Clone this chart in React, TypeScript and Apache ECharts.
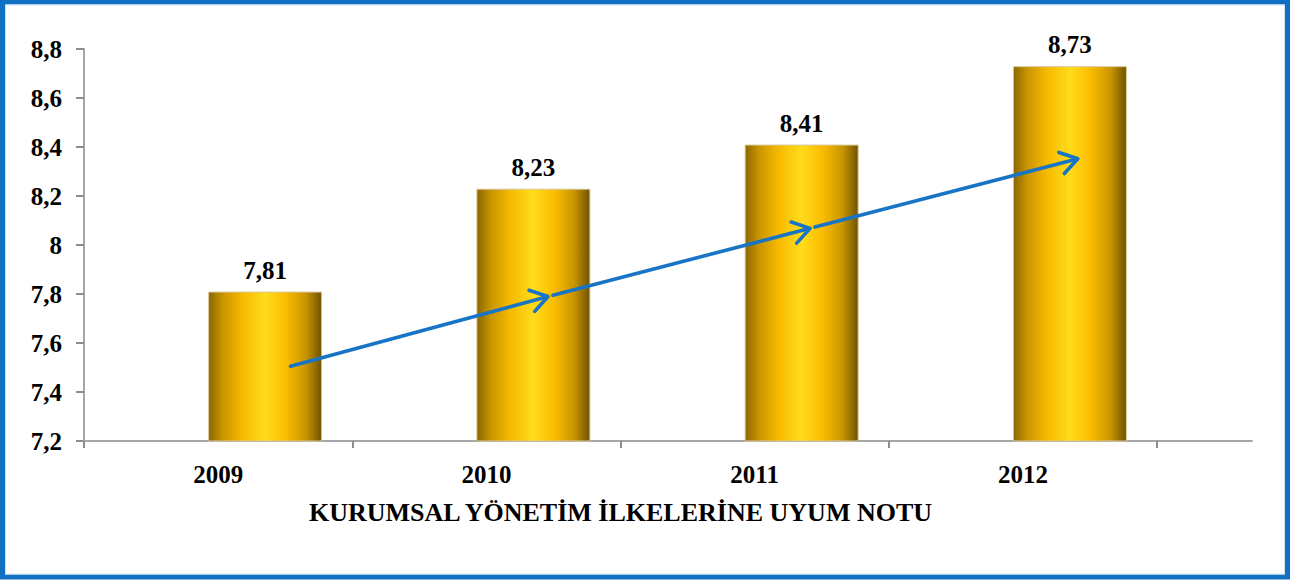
import React, { useEffect, useRef } from "react";
import * as echarts from "echarts";

const categories = ["2009", "2010", "2011", "2012"];
const scores = [7.81, 8.23, 8.41, 8.73];
const padSeries = [null, null, null, null];
const yTicks = { min: 7.2, max: 8.8, interval: 0.2 };
const xTitle = "KURUMSAL YÖNETİM İLKELERİNE UYUM NOTU";
// trend arrow (in data units: x = category index, y = score)
const trendX = [0.27, 1.23, 2.207, 3.205];
const trendY = [7.505, 7.79, 8.068, 8.352];

const FONT = "'Liberation Serif', 'Times New Roman', serif";

export default function App() {
  const ref = useRef<HTMLDivElement>(null);
  useEffect(() => {
    document.body.style.margin = "0";
    const chart = echarts.init(ref.current!, null, { renderer: "svg" });
    const segs: number[][] = [];
    for (let i = 0; i < trendX.length - 1; i++) {
      segs.push([trendX[i], trendY[i], trendX[i + 1], trendY[i + 1], i]);
    }
    const fmt = (v: number) => (Math.round(v * 100) / 100).toString().replace(".", ",");
    const barGrad = new echarts.graphic.LinearGradient(0, 0, 1, 0, [
      { offset: 0, color: "#8a6600" },
      { offset: 0.12, color: "#c89400" },
      { offset: 0.3, color: "#f7ba00" },
      { offset: 0.5, color: "#ffdc1c" },
      { offset: 0.68, color: "#fbbd00" },
      { offset: 0.86, color: "#c99500" },
      { offset: 1, color: "#6e5200" },
    ]);
    chart.setOption({
      animation: false,
      backgroundColor: "#ffffff",
      grid: [
        { left: 84, right: 149, top: 49, bottom: 140 },
        { left: 84, right: 54, top: 49, bottom: 140 },
      ],
      xAxis: [
        {
          type: "category",
          gridIndex: 0,
          data: categories,
          axisLine: { onZero: false, lineStyle: { color: "#a6a6a6", width: 2 } },
          axisTick: { show: true, length: 7, lineStyle: { color: "#8c8c8c", width: 2 } },
          axisLabel: {
            margin: 21,
            color: "#000",
            fontFamily: FONT,
            fontWeight: "bold",
            fontSize: 25,
          },
          name: xTitle,
          nameLocation: "middle",
          nameGap: 58,
          nameTextStyle: { color: "#000", fontFamily: FONT, fontWeight: "bold", fontSize: 26 },
          z: 1,
        },
        {
          type: "value",
          gridIndex: 1,
          min: 0,
          max: 1,
          axisLine: { show: true, onZero: false, lineStyle: { color: "#a6a6a6", width: 2 } },
          axisTick: { show: false },
          axisLabel: { show: false },
          splitLine: { show: false },
          z: 0,
        },
        {
          type: "value",
          gridIndex: 0,
          min: -0.5,
          max: 3.5,
          show: false,
        },
      ],
      yAxis: [
        {
          type: "value",
          gridIndex: 0,
          min: yTicks.min,
          max: yTicks.max,
          interval: yTicks.interval,
          axisLine: { show: true, onZero: false, lineStyle: { color: "#a6a6a6", width: 2 } },
          axisTick: { show: true, length: 8, lineStyle: { color: "#8c8c8c", width: 2 } },
          splitLine: { show: false },
          axisLabel: {
            margin: 22,
            color: "#000",
            fontFamily: FONT,
            fontWeight: "bold",
            fontSize: 25,
            formatter: (v: number) => fmt(v),
          },
        },
        { type: "value", gridIndex: 1, min: 0, max: 1, show: false },
      ],
      graphic: [
        {
          type: "rect",
          shape: { x: 2.5, y: 2, width: 1285, height: 575 },
          style: { fill: "none", stroke: "#1170c4", lineWidth: 5 },
          z: 100,
        },
        {
          type: "rect",
          shape: { x: 5.5, y: 5, width: 1279, height: 569 },
          style: { fill: "none", stroke: "#cfe2f3", lineWidth: 1 },
          z: 100,
        },
      ],
      series: [
        {
          type: "bar",
          name: "pad",
          xAxisIndex: 0,
          yAxisIndex: 0,
          data: padSeries,
          barWidth: 114,
          barGap: "-17.5%",
          silent: true,
        },
        {
          type: "bar",
          name: "score",
          xAxisIndex: 0,
          yAxisIndex: 0,
          data: scores,
          barWidth: 114,
          barGap: "-17.5%",
          itemStyle: { color: barGrad, borderColor: "#d9c9a0", borderWidth: 1 },
          label: {
            show: true,
            position: "top",
            distance: 9,
            color: "#000",
            fontFamily: FONT,
            fontWeight: "bold",
            fontSize: 25,
            formatter: (p: any) => fmt(p.value),
          },
          z: 2,
        },
        {
          type: "custom",
          xAxisIndex: 2,
          yAxisIndex: 0,
          data: segs,
          z: 5,
          renderItem: (params: any, api: any) => {
            const p0 = api.coord([api.value(0), api.value(1)]);
            const p1 = api.coord([api.value(2), api.value(3)]);
            const idx = api.value(4);
            const dx = p1[0] - p0[0];
            const dy = p1[1] - p0[1];
            const len = Math.sqrt(dx * dx + dy * dy);
            const ux = dx / len;
            const uy = dy / len;
            const gap = idx > 0 ? 5 : 0;
            const s = [p0[0] + ux * gap, p0[1] + uy * gap];
            const a = Math.atan2(dy, dx);
            const L = 20;
            const th = (33 * Math.PI) / 180;
            const arm1 = [p1[0] - L * Math.cos(a - th), p1[1] - L * Math.sin(a - th)];
            const arm2 = [p1[0] - L * Math.cos(a + th), p1[1] - L * Math.sin(a + th)];
            const style = { stroke: "#1874c4", lineWidth: 3.6, fill: "none", lineCap: "round", lineJoin: "round" };
            return {
              type: "group",
              children: [
                { type: "line", shape: { x1: s[0], y1: s[1], x2: p1[0] - ux * 2, y2: p1[1] - uy * 2 }, style },
                { type: "polyline", shape: { points: [arm1, p1, arm2] }, style },
              ],
            };
          },
        },
      ],
    });
    return () => chart.dispose();
  }, []);
  return <div ref={ref} style={{ width: 1306, height: 581 }} />;
}
